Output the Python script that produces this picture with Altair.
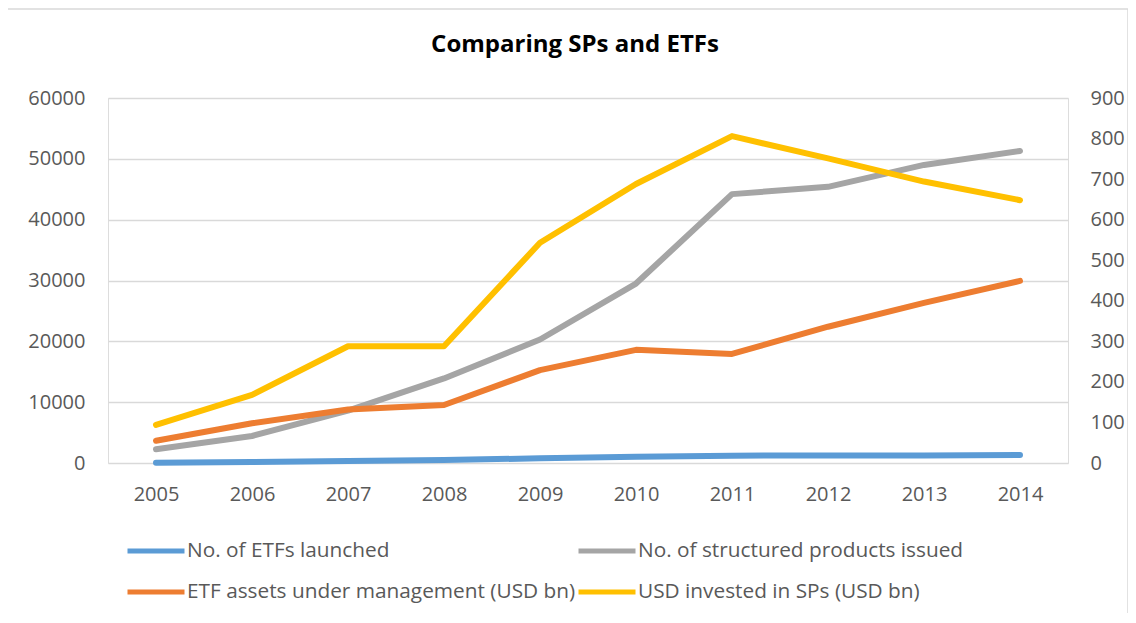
import altair as alt
import pandas as pd

years = [str(y) for y in range(2005, 2015)]
etfs_launched = [50, 160, 330, 490, 770, 1040, 1200, 1250, 1250, 1300]
sp_issued = [2250, 4440, 8600, 13900, 20300, 29500, 44200, 45400, 49000, 51300]
etf_aum = [55, 98, 132, 143, 229, 279, 269, 336, 395, 449]
sp_invested = [94, 168, 288, 288, 543, 688, 806, 751, 694, 648]

names = [
    "No. of ETFs launched",
    "No. of structured products issued",
    "ETF assets under management (USD bn)",
    "USD invested in SPs (USD bn)",
]
colors = ["#5B9BD5", "#A5A5A5", "#ED7D31", "#FFC000"]
left_ticks = [0, 10000, 20000, 30000, 40000, 50000, 60000]
right_ticks = [0, 100, 200, 300, 400, 500, 600, 700, 800, 900]
title_text = "Comparing SPs and ETFs"

FONT = "Open Sans"
TXT = "#595959"


def frame(vals, name):
    return pd.DataFrame({"year": years, "value": vals, "series": name})


color = alt.Color(
    "series:N",
    scale=alt.Scale(domain=names, range=colors),
    legend=alt.Legend(
        title=None,
        orient="none",
        legendX=17,
        legendY=422,
        direction="horizontal",
        columns=2,
        symbolType="stroke",
        symbolSize=3249,
        symbolStrokeWidth=5,
        labelFont=FONT,
        labelFontSize=20.8,
        labelColor=TXT,
        labelOffset=0,
        labelLimit=600,
        columnPadding=-8,
        rowPadding=-5,
        padding=0,
    ),
)

xenc = alt.X(
    "year:O",
    title=None,
    axis=alt.Axis(
        labelAngle=0,
        ticks=False,
        domain=False,
        grid=False,
        labelFont=FONT,
        labelFontSize=20,
        labelColor=TXT,
        labelPadding=21,
    ),
)

yleft = alt.Y(
    "value:Q",
    title=None,
    scale=alt.Scale(domain=[0, 60000], nice=False),
    axis=alt.Axis(
        values=left_ticks,
        format="d",
        orient="left",
        grid=True,
        gridColor="#D9D9D9",
        gridWidth=1.3,
        ticks=False,
        domain=False,
        labelFont=FONT,
        labelFontSize=20,
        labelColor=TXT,
        labelPadding=23,
    ),
)

yright = alt.Y(
    "value:Q",
    title=None,
    scale=alt.Scale(domain=[0, 900], nice=False),
    axis=alt.Axis(
        values=right_ticks,
        format="d",
        orient="right",
        grid=False,
        ticks=False,
        domain=False,
        labelFont=FONT,
        labelFontSize=20,
        labelColor=TXT,
        labelPadding=22,
    ),
)


def line(df, y):
    return (
        alt.Chart(df)
        .mark_line(strokeWidth=6, strokeCap="round", strokeJoin="round")
        .encode(x=xenc, y=y, color=color)
    )


left = alt.layer(line(frame(etfs_launched, names[0]), yleft),
                 line(frame(sp_issued, names[1]), yleft))
right = alt.layer(line(frame(etf_aum, names[2]), yright),
                  line(frame(sp_invested, names[3]), yright))

deco = pd.DataFrame({"t": [title_text]})
border = (
    alt.Chart(deco)
    .mark_rect(fill=None, stroke="#D9D9D9", strokeWidth=1.5)
    .encode(x=alt.value(-101), x2=alt.value(1020), y=alt.value(-89), y2=alt.value(522))
)
title = (
    alt.Chart(deco)
    .mark_text(font=FONT, fontSize=24, fontWeight="bold", color="#000000",
               align="center", baseline="alphabetic")
    .encode(text="t:N", x=alt.value(467), y=alt.value(-46))
)

chart = (
    alt.layer(border, title, left, right)
    .resolve_scale(y="independent")
    .properties(
        width=960,
        height=365,
        autosize=alt.AutoSizeParams(type="none"),
        padding={"left": 100, "top": 90, "right": 60, "bottom": 150},
    )
    .configure_view(stroke=None)
    .configure(background="white")
)

chart.save("out.html", embed_options={"renderer": "svg", "actions": False})
